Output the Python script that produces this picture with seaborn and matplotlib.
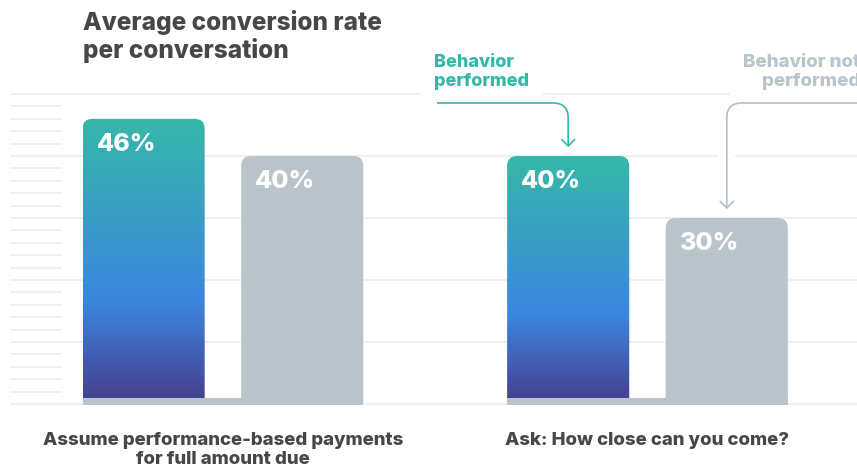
import numpy as np
import pandas as pd
import matplotlib
matplotlib.use("Agg")
import matplotlib.pyplot as plt
import seaborn as sns
from matplotlib.path import Path
from matplotlib.patches import PathPatch, Rectangle
from matplotlib.colors import LinearSegmentedColormap
import matplotlib.patheffects as pe

# ---------------- data ----------------
categories = ["Assume performance-based payments\nfor full amount due",
              "Ask: How close can you come?"]
series = ["Behavior\nperformed", "Behavior not\nperformed"]
performed = [46, 40]
not_performed = [40, 30]
labels_performed = ["46%", "40%"]
labels_not_performed = ["40%", "30%"]
title = "Average conversion rate\nper conversation"

# ---------------- style ----------------
W, H, DPI = 857, 472, 100
TEAL = "#35b8a8"
BLUE = "#3b86e0"
PURPLE = "#473d8c"
GREY = "#b9c5cb"
GREY_ARROW = "#b3bfc6"
DARK = "#474747"
GRID = "#efefef"

sns.set_theme(style="white")
plt.rcParams["font.family"] = ["Inter", "DejaVu Sans"]

df = pd.DataFrame({
    "category": categories * 2,
    "series": [series[0]] * len(categories) + [series[1]] * len(categories),
    "value": performed + not_performed,
})

fig = plt.figure(figsize=(W / DPI, H / DPI), dpi=DPI)
ax = fig.add_axes([0, 0, 1, 1])
sns.barplot(data=df, x="category", y="value", hue="series", order=categories,
            hue_order=series, palette=[TEAL, GREY], width=0.747, gap=0.23,
            saturation=1, errorbar=None, legend=False, ax=ax)
ax.set_xlim(-0.525, 1.4935)
ax.set_ylim(-10.97, 65.16)
ax.axis("off")

pxx = W / (ax.get_xlim()[1] - ax.get_xlim()[0])   # pixels per x unit
pxy = H / (ax.get_ylim()[1] - ax.get_ylim()[0])   # pixels per y unit

# ---------------- grid ----------------
for v in range(0, 51, 2):
    if v % 10 == 0:
        ax.axhline(v, xmin=11 / W, xmax=1, color=GRID, lw=1.3, zorder=0)
    else:
        ax.axhline(v, xmin=11 / W, xmax=61 / W, color=GRID, lw=1.3, zorder=0)

# ---------------- rounded bars ----------------
cmap = LinearSegmentedColormap.from_list(
    "g", [(0, TEAL), (0.64, BLUE), (1, PURPLE)])
grad = np.linspace(0, 1, 256).reshape(-1, 1)
rx, ry = 10 / pxx, 10 / pxy


def rounded_path(x0, w, h):
    x1 = x0 + w
    verts = [(x0, 0), (x0, h - ry), (x0, h), (x0 + rx, h), (x1 - rx, h),
             (x1, h), (x1, h - ry), (x1, 0), (x0, 0)]
    codes = [Path.MOVETO, Path.LINETO, Path.CURVE3, Path.CURVE3, Path.LINETO,
             Path.CURVE3, Path.CURVE3, Path.LINETO, Path.CLOSEPOLY]
    return Path(verts, codes)


cont_perf, cont_not = ax.containers[0], ax.containers[1]
for cont, labels, is_grad in [(cont_perf, labels_performed, True),
                              (cont_not, labels_not_performed, False)]:
    for rect, lab in zip(cont, labels):
        x0, w, h = rect.get_x(), rect.get_width(), rect.get_height()
        rect.set_visible(False)
        path = rounded_path(x0, w, h)
        if is_grad:
            pp = PathPatch(path, facecolor="none", edgecolor="none")
            ax.add_patch(pp)
            im = ax.imshow(grad, cmap=cmap, aspect="auto", origin="upper",
                           extent=[x0, x0 + w, 0, h], zorder=2,
                           interpolation="bilinear")
            im.set_clip_path(pp)
        else:
            ax.add_patch(PathPatch(path, facecolor=GREY, edgecolor="none",
                                   zorder=2))
        ax.annotate(lab, xy=(x0, h), xytext=(14, -26),
                    textcoords="offset pixels", color="white",
                    fontsize=18, fontweight="heavy", ha="left", va="center",
                    zorder=5)

# pedestal under each group
for i in range(len(categories)):
    left = cont_perf[i].get_x()
    right = cont_not[i].get_x() + cont_not[i].get_width()
    ax.add_patch(Rectangle((left, -1 / pxy), right - left, 7 / pxy,
                           facecolor=GREY, edgecolor="none", zorder=3))

# category labels
for i, cat in enumerate(categories):
    ax.text(i, -28 / pxy, cat, ha="center", va="top", fontsize=13.4,
            fontweight="heavy", color=DARK, linespacing=1.12)

# title
fig.text(83 / W, 1 - 10 / H, title, ha="left", va="top", fontsize=17.5,
         fontweight="heavy", color=DARK, linespacing=1.15)

# legend labels
fig.text(434 / W, 1 - 54 / H, series[0], ha="left", va="top", fontsize=13,
         fontweight="heavy", color=TEAL, linespacing=1.15, zorder=3,
         bbox=dict(facecolor="white", edgecolor="none",
                   boxstyle="square,pad=0.7"))
fig.text(743 / W, 1 - 54 / H, series[1], ha="left", va="top", fontsize=13.5,
         fontweight="heavy", color=GREY, linespacing=1.15, zorder=3,
         multialignment="right",
         bbox=dict(facecolor="white", edgecolor="none",
                   boxstyle="square,pad=0.7"))

# arrows (pixel coords, y from bottom)
fig.canvas.draw()
r = 15
y_line = H - 103


def draw_arrow(rect, start_x, color):
    cx = rect.get_x() + rect.get_width() / 2
    tx, ty = ax.transData.transform((cx, rect.get_height()))
    ty = ty + 10
    corner = tx - r if start_x < tx else tx + r
    verts = [(start_x, y_line), (corner, y_line), (tx, y_line),
             (tx, y_line - r), (tx, ty)]
    codes = [Path.MOVETO, Path.LINETO, Path.CURVE3, Path.CURVE3, Path.LINETO]
    p = PathPatch(Path(verts, codes), facecolor="none", edgecolor=color,
                  lw=1.2, transform=None, zorder=4, capstyle="butt",
                  path_effects=[pe.Stroke(linewidth=12, foreground="white"),
                                pe.Normal()])
    fig.add_artist(p)
    head = Path([(tx - 7, ty + 7), (tx, ty), (tx + 7, ty + 7)],
                [Path.MOVETO, Path.LINETO, Path.LINETO])
    fig.add_artist(PathPatch(head, facecolor="none", edgecolor=color, lw=1.2,
                             transform=None, zorder=4))


draw_arrow(cont_perf[1], 437, TEAL)
draw_arrow(cont_not[1], W + 5, GREY_ARROW)

fig.savefig("out.png", dpi=DPI)
